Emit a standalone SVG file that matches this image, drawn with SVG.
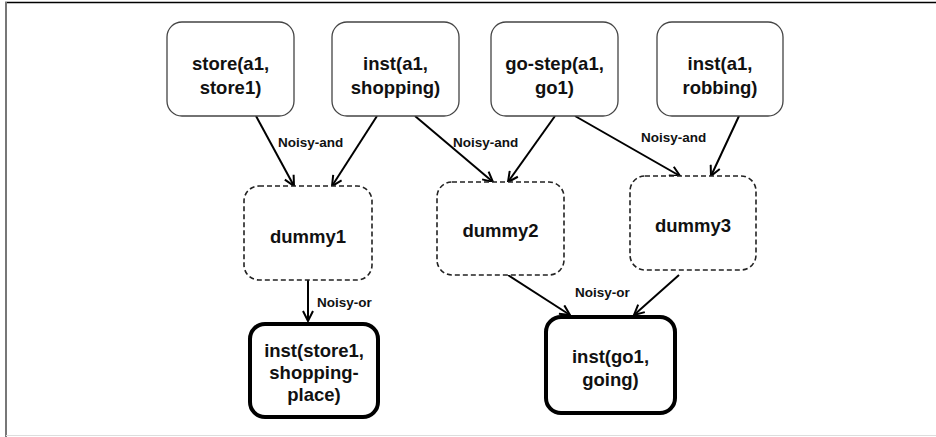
<svg xmlns="http://www.w3.org/2000/svg" width="936" height="437" viewBox="0 0 936 437">
<style>
.n{fill:#fff;stroke:#444;stroke-width:1.3}
.d{fill:#fff;stroke:#222;stroke-width:1.6;stroke-dasharray:5 3}
.b{fill:#fff;stroke:#000;stroke-width:4}
.t{font-family:"Liberation Sans",Arial,sans-serif;font-weight:bold;font-size:18.5px;fill:#111;text-anchor:middle}
.l{font-family:"Liberation Sans",Arial,sans-serif;font-weight:bold;font-size:13.5px;fill:#111}
.e{stroke:#000;stroke-width:2;fill:none;marker-end:url(#ah)}
</style>
<defs>
<marker id="ah" viewBox="0 0 12 12" refX="11" refY="6" markerWidth="12" markerHeight="12" markerUnits="userSpaceOnUse" orient="auto">
<path d="M1,1 L11,6 L1,11" fill="none" stroke="#000" stroke-width="2"/>
</marker>
</defs>
<rect x="0" y="0" width="936" height="437" fill="#fff"/>
<line x1="5" y1="2.5" x2="936" y2="2.5" stroke="#000" stroke-width="1.5"/>
<line x1="6" y1="2" x2="6" y2="437" stroke="#777" stroke-width="2"/>
<line x1="6" y1="435.5" x2="936" y2="435.5" stroke="#ddd" stroke-width="1"/>

<g id="connectors">
<line class="e" x1="256" y1="116" x2="294" y2="186"/>
<line class="e" x1="377" y1="116" x2="332" y2="186"/>
<line class="e" x1="415" y1="116" x2="493" y2="182"/>
<line class="e" x1="555" y1="116" x2="508" y2="182"/>
<line class="e" x1="575" y1="116" x2="680" y2="176"/>
<line class="e" x1="739" y1="116" x2="711" y2="176"/>
<line class="e" x1="308" y1="280" x2="308" y2="321"/>
<line class="e" x1="508" y1="275" x2="570" y2="315"/>
<line class="e" x1="679" y1="275" x2="634" y2="315"/>
<text class="l" x="278" y="147">Noisy-and</text>
<text class="l" x="453" y="147">Noisy-and</text>
<text class="l" x="641" y="142">Noisy-and</text>
<text class="l" x="317" y="307">Noisy-or</text>
<text class="l" x="575" y="297">Noisy-or</text>
</g>

<g id="store">
<rect class="n" x="167" y="22" width="127" height="94" rx="15"/>
<text class="t" x="230.5" y="70">store(a1,</text>
<text class="t" x="230.5" y="94">store1)</text>
</g>
<g id="inst-shopping">
<rect class="n" x="332" y="22" width="127" height="94" rx="15"/>
<text class="t" x="395.5" y="70">inst(a1,</text>
<text class="t" x="395.5" y="94">shopping)</text>
</g>
<g id="go-step">
<rect class="n" x="491" y="22" width="127" height="94" rx="15"/>
<text class="t" x="554.5" y="70">go-step(a1,</text>
<text class="t" x="554.5" y="94">go1)</text>
</g>
<g id="inst-robbing">
<rect class="n" x="657" y="22" width="126" height="94" rx="15"/>
<text class="t" x="720" y="70">inst(a1,</text>
<text class="t" x="720" y="94">robbing)</text>
</g>
<g id="dummy1">
<rect class="d" x="244" y="186" width="128" height="94" rx="15"/>
<text class="t" x="308" y="243">dummy1</text>
</g>
<g id="dummy2">
<rect class="d" x="437" y="182" width="127" height="93" rx="15"/>
<text class="t" x="500.5" y="237">dummy2</text>
</g>
<g id="dummy3">
<rect class="d" x="630" y="176" width="126" height="94" rx="15"/>
<text class="t" x="693" y="232">dummy3</text>
</g>
<g id="inst-store1">
<rect class="b" x="250" y="324" width="128" height="93" rx="15"/>
<text class="t" x="314" y="357">inst(store1,</text>
<text class="t" x="314" y="379">shopping-</text>
<text class="t" x="314" y="401">place)</text>
</g>
<g id="inst-go1">
<rect class="b" x="546" y="317" width="129" height="96" rx="15"/>
<text class="t" x="610.5" y="363">inst(go1,</text>
<text class="t" x="610.5" y="386">going)</text>
</g>
</svg>
